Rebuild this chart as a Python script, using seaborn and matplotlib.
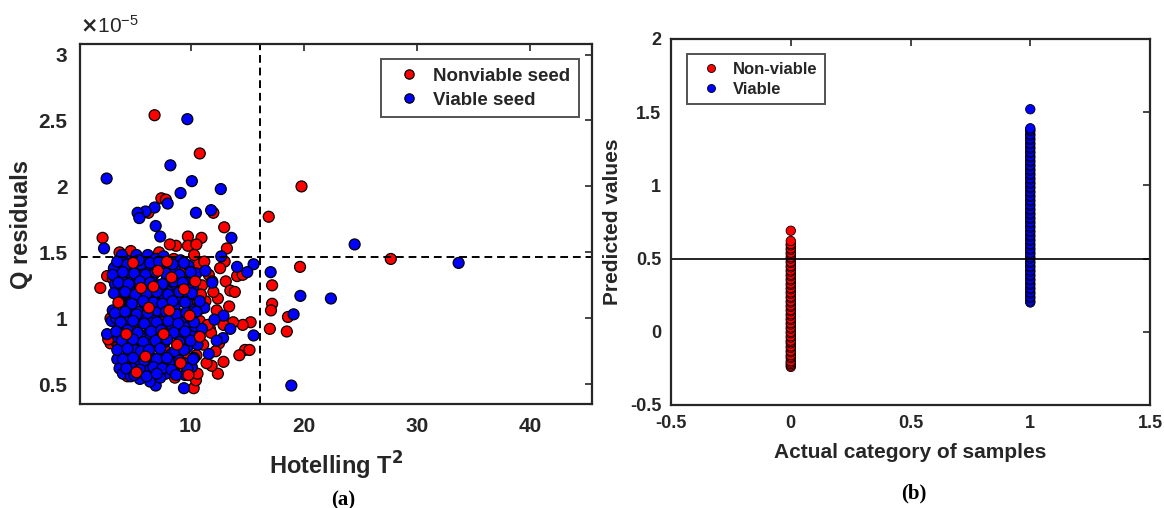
"""
Two panel figure: PCA outlier map (Hotelling T2 vs Q residuals) and
PLS-DA predicted values for nonviable / viable seeds.
"""

import matplotlib
matplotlib.use("Agg")
import matplotlib.pyplot as plt
import matplotlib.ticker as mticker
import pandas as pd
import seaborn as sns

# ---- data ----
# panel (a): (Hotelling T2, Q residual x 1e-5)
nonviable_points = [
    (6.8, 2.54), (10.8, 2.25), (19.8, 2.00), (16.9, 1.77), (12.0, 1.80),
    (7.4, 1.91), (7.8, 1.90), (6.25, 1.80), (2.2, 1.61), (10.95, 1.61),
    (9.75, 1.62), (12.96, 1.69), (13.2, 1.53), (8.7, 1.55), (8.15, 1.56),
    (9.75, 1.55), (10.5, 1.56), (7.2, 1.50), (27.7, 1.45), (19.67, 1.39),
    (17.2, 1.25), (17.2, 1.11), (17.1, 1.06), (18.6, 1.01), (17.0, 0.92),
    (18.5, 0.90), (2.0, 1.23), (2.6, 1.32), (15.3, 0.97), (14.6, 0.95),
    (13.75, 0.97), (14.8, 0.76), (15.2, 0.76), (14.3, 0.72), (12.9, 0.67),
    (12.4, 0.58), (11.85, 0.64), (10.26, 0.47), (10.46, 0.53), (7.4, 0.57),
    (13.1, 1.28), (13.5, 1.21), (13.9, 1.20), (14.1, 1.32), (14.6, 1.33),
    (13.0, 1.43), (12.4, 1.15), (13.4, 1.09), (11.7, 0.92), (10.8, 1.07),
    (12.5, 0.81), (2.9, 0.81),
    (3.1, 1.30), (3.3, 0.83), (3.6, 0.79), (3.9, 0.61), (4.2, 1.47),
    (4.4, 0.56), (4.7, 1.51), (4.9, 0.72), (5.2, 1.24), (5.4, 0.95),
    (5.6, 0.55), (5.9, 1.43), (6.1, 1.07), (6.3, 0.66), (6.5, 1.34),
    (6.7, 0.86), (6.9, 1.18), (7.1, 0.59), (7.3, 1.40), (7.5, 0.97),
    (7.7, 0.76), (7.9, 1.28), (8.1, 1.12), (8.3, 0.90), (8.5, 1.45),
    (8.7, 0.68), (8.9, 1.21), (9.1, 1.03), (9.3, 0.79), (9.5, 1.36),
    (9.6, 0.93), (9.8, 1.16), (9.9, 0.62), (10.1, 1.30), (10.2, 0.85),
    (10.4, 1.10), (10.5, 0.72), (10.7, 1.41), (10.8, 0.98), (11.0, 1.25),
    (11.1, 0.80), (11.3, 1.13), (11.4, 0.66), (11.6, 1.33), (11.8, 0.89),
    (12.0, 1.20), (12.2, 0.75), (12.3, 1.06), (12.6, 1.38), (12.9, 0.95),
    (4.0, 1.02), (4.5, 1.15), (5.0, 0.88), (5.5, 1.32), (6.0, 0.77),
    (6.6, 1.00), (7.0, 1.45), (7.6, 1.20), (8.0, 0.64), (8.4, 1.37),
    (8.8, 0.98), (9.2, 1.25), (9.7, 0.70), (10.0, 1.05), (10.3, 1.48),
    (10.6, 0.58), (10.9, 1.18), (11.2, 1.43), (11.5, 0.95), (11.9, 1.28),
    (6.8, 0.56), (7.8, 0.61), (8.6, 0.55), (9.4, 0.60), (5.3, 0.62),
    (4.6, 0.68), (2.7, 0.84), (2.9, 1.00), (3.4, 1.40), (3.7, 1.50),
]
# red points that sit on top of the blue cloud
nonviable_front = [
    (8.3, 1.31), (9.4, 1.22), (6.3, 1.08), (7.6, 0.88), (9.9, 1.02),
    (5.6, 1.23), (8.8, 0.80), (4.9, 1.42), (10.4, 1.28), (7.1, 1.36),
    (6.0, 0.71), (9.1, 0.66), (4.3, 0.88), (8.1, 1.06), (10.8, 0.86),
    (5.2, 0.59), (7.9, 1.43), (9.8, 0.57), (6.7, 1.24), (3.6, 1.12),
]
viable_points = [
    (9.7, 2.51), (8.2, 2.16), (2.56, 2.06), (10.1, 2.04), (9.1, 1.95),
    (12.66, 1.98), (10.46, 1.80), (11.8, 1.82), (7.96, 1.87), (6.8, 1.84),
    (6.0, 1.81), (5.3, 1.80), (5.45, 1.76), (6.9, 1.70), (7.3, 1.62),
    (13.6, 1.61), (2.33, 1.53), (24.5, 1.56), (33.7, 1.42), (15.56, 1.41),
    (15.0, 1.35), (14.1, 1.39), (17.07, 1.35), (19.7, 1.17), (22.4, 1.15),
    (19.1, 1.03), (15.56, 0.87), (18.9, 0.49), (12.9, 1.02), (13.5, 0.92),
    (12.86, 0.85), (12.3, 0.83), (6.9, 0.49), (9.4, 0.47), (9.77, 0.57),
    (12.7, 1.47), (11.2, 1.08),
    (2.6, 0.88), (3.0, 0.98), (3.1, 1.06), (3.2, 1.38), (3.3, 1.26),
    (3.5, 0.69), (3.6, 1.18), (3.7, 0.62), (3.8, 0.93), (3.9, 1.32),
    (4.0, 0.58), (4.1, 1.11), (4.2, 0.80), (4.3, 1.44), (4.4, 1.00),
    (4.5, 0.71), (4.6, 1.22), (4.7, 0.56), (4.8, 0.90), (4.9, 1.36),
    (5.0, 1.05), (5.1, 0.65), (5.2, 1.48), (5.3, 0.84), (5.4, 1.16),
    (5.5, 0.54), (5.6, 0.97), (5.7, 1.29), (5.8, 0.74), (5.9, 1.09),
    (6.0, 0.60), (6.1, 1.40), (6.2, 0.88), (6.3, 1.20), (6.4, 0.52),
    (6.5, 1.02), (6.6, 0.70), (6.7, 1.33), (6.8, 0.93), (6.9, 1.13),
    (7.0, 0.63), (7.1, 1.25), (7.2, 0.81), (7.3, 1.05), (7.4, 1.38),
    (7.5, 0.67), (7.6, 0.95), (7.7, 1.17), (7.8, 0.58), (7.9, 1.30),
    (8.0, 0.86), (8.1, 1.41), (8.2, 1.00), (8.3, 0.73), (8.4, 1.22),
    (8.5, 0.60), (8.6, 1.10), (8.7, 0.90), (8.8, 1.33), (8.9, 0.75),
    (9.0, 1.02), (9.1, 1.44), (9.2, 0.84), (9.3, 1.18), (9.4, 0.66),
    (9.5, 0.96), (9.6, 1.27), (9.7, 0.78), (9.8, 1.40), (9.9, 1.08),
    (10.0, 0.88), (10.1, 0.63), (10.2, 1.23), (10.4, 0.94), (10.5, 1.34),
    (10.6, 0.80), (10.8, 1.13), (11.0, 0.92), (11.3, 1.36), (11.6, 0.73),
    (11.9, 1.27), (12.1, 0.99),
    (3.4, 1.00), (3.6, 0.85), (4.0, 1.25), (4.2, 0.95), (4.5, 1.35),
    (4.7, 1.12), (5.0, 0.76), (5.2, 1.28), (5.4, 0.68), (5.6, 1.41),
    (5.8, 1.00), (6.0, 1.25), (6.2, 1.48), (6.4, 0.80), (6.6, 1.15),
    (6.9, 1.45), (7.1, 0.90), (7.3, 0.55), (7.6, 1.47), (7.8, 1.08),
    (8.0, 1.20), (8.3, 0.95), (8.6, 1.37), (8.9, 1.15), (9.2, 1.00),
    (9.5, 0.57), (9.7, 1.12), (10.0, 1.00), (10.3, 0.70), (4.8, 0.62),
    (5.5, 0.87), (6.3, 0.97), (7.0, 1.06), (7.7, 0.82), (8.4, 0.66),
    (3.9, 1.48), (4.6, 0.98), (5.3, 1.05), (6.5, 1.30), (7.4, 1.22),
    (8.2, 1.30), (9.0, 0.92),
    (3.5, 1.43), (4.4, 1.41), (5.4, 1.44), (6.4, 1.42), (7.2, 1.43),
    (8.4, 1.41), (9.4, 1.42), (3.1, 1.33), (4.0, 1.35), (5.0, 1.34),
    (6.0, 1.33), (6.9, 1.35), (7.8, 1.34), (9.0, 1.33), (10.0, 1.35),
    (3.6, 1.27), (4.5, 1.26), (5.5, 1.28), (6.4, 1.27), (7.5, 1.26),
    (8.5, 1.28), (9.3, 1.27), (3.2, 1.19), (4.2, 1.20), (5.1, 1.18),
    (6.1, 1.19), (7.0, 1.20), (8.0, 1.18), (9.0, 1.20), (10.1, 1.19),
    (3.7, 1.12), (4.8, 1.11), (5.8, 1.13), (6.7, 1.12), (7.5, 1.11),
    (8.4, 1.13), (9.5, 1.12), (3.3, 1.04), (4.2, 1.05), (5.2, 1.03),
    (6.2, 1.04), (7.8, 1.05), (8.7, 1.03), (9.6, 1.04), (10.5, 1.05),
    (3.8, 0.97), (4.9, 0.98), (5.9, 0.96), (7.0, 0.97), (8.0, 0.98),
    (8.9, 0.96), (10.3, 0.97), (3.4, 0.90), (4.4, 0.91), (5.3, 0.89),
    (6.5, 0.90), (7.4, 0.91), (8.5, 0.89), (9.5, 0.90), (3.9, 0.83),
    (4.9, 0.84), (5.8, 0.82), (6.9, 0.83), (7.9, 0.84), (9.0, 0.82),
    (10.0, 0.83), (3.5, 0.76), (4.4, 0.77), (5.6, 0.75), (6.3, 0.76),
    (7.3, 0.77), (8.6, 0.75), (9.4, 0.76), (4.0, 0.69), (4.9, 0.70),
    (5.9, 0.68), (7.0, 0.69), (7.9, 0.70), (9.0, 0.68), (10.2, 0.69),
    (4.3, 0.62), (5.5, 0.61), (6.7, 0.63), (7.5, 0.62), (8.3, 0.61),
    (9.7, 0.62), (5.0, 0.57), (6.1, 0.56), (7.0, 0.58), (8.7, 0.57),
]
t2_limit = 16.1
q_limit = 1.467

# panel (b): predicted values per actual class
nonviable_pred = [
    -0.24, -0.23, -0.22, -0.21, -0.20, -0.18, -0.17, -0.16, -0.14, -0.13,
    -0.11, -0.10, -0.08, -0.07, -0.06, -0.04, -0.03, -0.01, 0.00, 0.02,
    0.03, 0.05, 0.06, 0.08, 0.09, 0.11, 0.12, 0.14, 0.15, 0.17, 0.18,
    0.20, 0.21, 0.23, 0.24, 0.26, 0.27, 0.29, 0.30, 0.32, 0.33, 0.35,
    0.36, 0.38, 0.39, 0.41, 0.42, 0.44, 0.45, 0.47, 0.48, 0.50, 0.51,
    0.53, 0.54, 0.56, 0.57, 0.59, 0.60, 0.62, 0.69,
]
viable_pred = [
    0.20, 0.21, 0.23, 0.24, 0.26, 0.27, 0.29, 0.30, 0.32, 0.33, 0.35,
    0.36, 0.38, 0.39, 0.41, 0.42, 0.44, 0.45, 0.47, 0.48, 0.50, 0.51,
    0.53, 0.54, 0.56, 0.57, 0.59, 0.60, 0.62, 0.63, 0.65, 0.66, 0.68,
    0.69, 0.71, 0.72, 0.74, 0.75, 0.77, 0.78, 0.80, 0.81, 0.83, 0.84,
    0.86, 0.87, 0.89, 0.90, 0.92, 0.93, 0.95, 0.96, 0.98, 0.99, 1.01,
    1.02, 1.04, 1.05, 1.07, 1.08, 1.10, 1.11, 1.13, 1.14, 1.16, 1.17,
    1.19, 1.20, 1.22, 1.23, 1.25, 1.26, 1.28, 1.29, 1.31, 1.32, 1.34,
    1.35, 1.37, 1.38, 1.39, 1.52,
]
class_threshold = 0.5

# ---- tidy tables (row order = drawing order) ----
df_a = pd.concat([
    pd.DataFrame(nonviable_points, columns=["t2", "q"]).assign(group="Nonviable seed"),
    pd.DataFrame(viable_points, columns=["t2", "q"]).assign(group="Viable seed"),
    pd.DataFrame(nonviable_front, columns=["t2", "q"]).assign(group="Nonviable seed"),
], ignore_index=True)
df_b = pd.concat([
    pd.DataFrame({"actual": 0, "pred": nonviable_pred, "group": "Non-viable"}),
    pd.DataFrame({"actual": 1, "pred": viable_pred, "group": "Viable"}),
], ignore_index=True)

sns.set_style("white")
plt.rcParams["font.family"] = ["Liberation Sans", "DejaVu Sans"]
plt.rcParams["font.weight"] = "bold"
ink = "#262626"

fig = plt.figure(figsize=(11.64, 5.08), dpi=100)
ax1 = fig.add_axes([0.0687, 0.2047, 0.4399, 0.7087])
ax2 = fig.add_axes([0.5765, 0.2028, 0.4115, 0.7205])


def style_axes(ax, tick_size, pad):
    for sp in ax.spines.values():
        sp.set_visible(True)
        sp.set_color(ink)
        sp.set_linewidth(1.6)
    ax.tick_params(direction="in", length=5, width=1.2, color=ink,
                   top=True, right=True, labelsize=tick_size,
                   labelcolor=ink, pad=pad)
    fmt = mticker.FuncFormatter(lambda v, p: "{:g}".format(v))
    ax.xaxis.set_major_formatter(fmt)
    ax.yaxis.set_major_formatter(fmt)
    for lab in ax.get_xticklabels() + ax.get_yticklabels():
        lab.set_fontweight("bold")


# ---- panel (a) ----
sns.scatterplot(data=df_a, x="t2", y="q", hue="group",
                hue_order=["Nonviable seed", "Viable seed"],
                palette={"Nonviable seed": "#ff0000", "Viable seed": "#0000ff"},
                s=62, edgecolor="black", linewidth=0.9, ax=ax1, legend=True)
ax1.axvline(t2_limit, color="black", linestyle=(0, (4, 2.5)), linewidth=1.4)
ax1.axhline(q_limit, color="black", linestyle=(0, (4, 2.5)), linewidth=1.4)
ax1.set_xlim(0.2, 45.5)
ax1.set_ylim(0.35, 3.08)
ax1.set_xticks([10, 20, 30, 40])
ax1.set_yticks([0.5, 1, 1.5, 2, 2.5, 3])
style_axes(ax1, 15, 9)
ax1.set_xlabel("Hotelling T$^\\mathbf{2}$", fontsize=17, fontweight="bold",
               color=ink, labelpad=10)
ax1.set_ylabel("Q residuals", fontsize=17, fontweight="bold", color=ink,
               labelpad=4)
ax1.text(0.0, 1.02, "$\\times\\mathregular{10^{-5}}$", transform=ax1.transAxes,
         fontsize=15, color=ink, fontweight="normal", va="bottom", ha="left")
leg1 = ax1.legend(loc="upper right", bbox_to_anchor=(0.992, 0.983),
                  fontsize=13.5, frameon=True, fancybox=False, markerscale=0.85,
                  handletextpad=0.3, borderpad=0.45, labelspacing=0.35)
leg1.get_frame().set_edgecolor(ink)
leg1.get_frame().set_linewidth(1.4)
for t in leg1.get_texts():
    t.set_fontweight("bold")

# ---- panel (b) ----
sns.scatterplot(data=df_b, x="actual", y="pred", hue="group",
                palette={"Non-viable": "#ff0000", "Viable": "#0000ff"},
                s=46, edgecolor="black", linewidth=0.6, ax=ax2, legend=True)
ax2.axhline(class_threshold, color="black", linewidth=1.2)
ax2.set_xlim(-0.5, 1.5)
ax2.set_ylim(-0.5, 2)
ax2.set_xticks([-0.5, 0, 0.5, 1, 1.5])
ax2.set_yticks([-0.5, 0, 0.5, 1, 1.5, 2])
style_axes(ax2, 13, 7)
ax2.set_xlabel("Actual category of samples", fontsize=15, fontweight="bold",
               color=ink, labelpad=8)
ax2.set_ylabel("Predicted values", fontsize=15, fontweight="bold", color=ink,
               labelpad=6)
leg2 = ax2.legend(loc="upper left", bbox_to_anchor=(0.015, 0.981),
                  fontsize=12, frameon=True, fancybox=False, markerscale=0.85,
                  handletextpad=0.3, borderpad=0.45, labelspacing=0.3)
leg2.get_frame().set_edgecolor(ink)
leg2.get_frame().set_linewidth(1.4)
for t in leg2.get_texts():
    t.set_fontweight("bold")

# panel captions
serif = ["Liberation Serif", "DejaVu Serif"]
fig.text(343 / 1164, 1 - 500 / 508, "(a)", family=serif, fontsize=15,
         fontweight="bold", ha="center", va="center", color="black")
fig.text(914 / 1164, 1 - 493 / 508, "(b)", family=serif, fontsize=15,
         fontweight="bold", ha="center", va="center", color="black")

fig.savefig("out.png", dpi=100)
